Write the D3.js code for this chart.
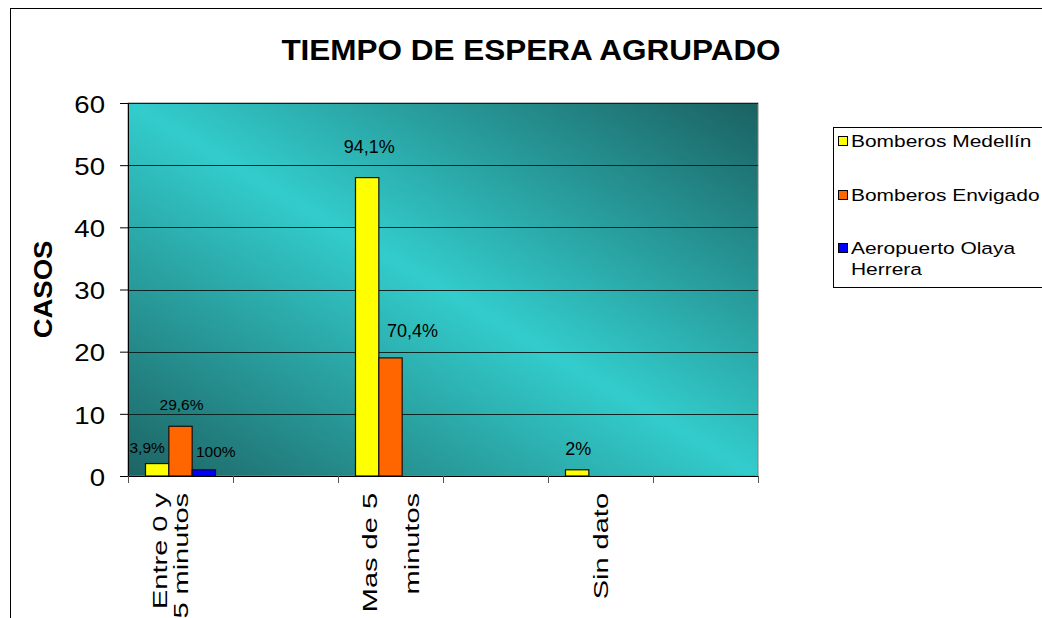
<!DOCTYPE html>
<html>
<head>
<meta charset="utf-8">
<script src="https://cdn.jsdelivr.net/npm/d3@7"></script>
<style>
  html, body { margin: 0; padding: 0; background: #fff; }
  svg { display: block; font-family: "Liberation Sans", Arial, sans-serif; }
</style>
</head>
<body>
<svg id="chart" width="1042" height="618"></svg>
<script>
// ---- data ----
const title = "TIEMPO DE ESPERA AGRUPADO";
const yTitle = "CASOS";
const categories = ["Entre 0 y\n5 minutos\n", "", "Mas de 5\n\nminutos", "", "Sin dato", ""];
const seriesNames = ["Bomberos Medellín", "Bomberos Envigado", "Aeropuerto Olaya\nHerrera"];
const medellin   = [2, 0, 48, 0, 1, 0];
const envigado   = [8, 0, 19, 0, 0, 0];
const aeropuerto = [1, 0, 0, 0, 0, 0];
const medellinLabels   = ["3,9%", "", "94,1%", "", "2%", ""];
const envigadoLabels   = ["29,6%", "", "70,4%", "", "", ""];
const aeropuertoLabels = ["100%", "", "", "", "", ""];
const yTicks = [0, 10, 20, 30, 40, 50, 60];

// ---- style / layout (not data) ----
const colors = ["#FFFF00", "#FF6600", "#0000FF"];
// manual data-label placement relative to bar top-centre: [dx, dy(centre), fontSize]
const labelOffsets = [
  [[-10, -16, 15.5], null, [2, -31, 18], null, [1, -21, 18], null],
  [[1, -22, 15.5], null, [22, -27, 18], null, null, null],
  [[12, -18, 15.5], null, null, null, null, null]
];

const svg = d3.select("#chart");
const W = 1042, H = 618;
const plot = { left: 128, right: 758, top: 103, bottom: 476 };

svg.append("rect").attr("width", W).attr("height", H).attr("fill", "#fff");
// outer chart border
svg.append("rect").attr("x", 10.5).attr("y", 8.5).attr("width", 1100).attr("height", 700)
  .attr("fill", "none").attr("stroke", "#000").attr("stroke-width", 1);

// gradient
const defs = svg.append("defs");
const grad = defs.append("linearGradient").attr("id", "bg")
  .attr("x1", 0).attr("y1", 1).attr("x2", 1).attr("y2", 0);
grad.append("stop").attr("offset", "0%").attr("stop-color", "#1d6464");
grad.append("stop").attr("offset", "50%").attr("stop-color", "#33cccc");
grad.append("stop").attr("offset", "100%").attr("stop-color", "#1b6161");

svg.append("rect").attr("x", plot.left).attr("y", plot.top)
  .attr("width", plot.right - plot.left).attr("height", plot.bottom - plot.top)
  .attr("fill", "url(#bg)").attr("stroke", "#808080").attr("stroke-width", 1);

// scales
const y = d3.scaleLinear().domain([0, 60]).range([plot.bottom, plot.top]);
const idx = d3.range(categories.length);
const x0 = d3.scaleBand().domain(idx).range([plot.left, plot.right])
  .paddingInner(1 / 3).paddingOuter(1 / 6);
const x1 = d3.scaleBand().domain(d3.range(seriesNames.length)).range([0, x0.bandwidth()]);
const xEdge = d3.scaleLinear().domain([0, categories.length]).range([plot.left, plot.right]);

// gridlines
svg.append("g").selectAll("line").data(yTicks.filter(d => d > 0)).join("line")
  .attr("x1", plot.left).attr("x2", plot.right)
  .attr("y1", d => Math.round(y(d)) + 0.5).attr("y2", d => Math.round(y(d)) + 0.5)
  .attr("stroke", "#0b2424").attr("stroke-width", 1);

// bars
const series = [medellin, envigado, aeropuerto];
const labels = [medellinLabels, envigadoLabels, aeropuertoLabels];
const barData = [];
series.forEach((vals, s) => vals.forEach((v, c) => { if (v > 0) barData.push({ s, c, v }); }));
svg.append("g").selectAll("rect").data(barData).join("rect")
  .attr("x", d => x0(d.c) + x1(d.s))
  .attr("y", d => y(d.v))
  .attr("width", x1.bandwidth())
  .attr("height", d => y(0) - y(d.v))
  .attr("fill", d => colors[d.s])
  .attr("stroke", "#111").attr("stroke-width", 1.2);

// data labels
const lblData = [];
labels.forEach((arr, s) => arr.forEach((t, c) => { if (t) lblData.push({ s, c, t, v: series[s][c] }); }));
svg.append("g").selectAll("text").data(lblData).join("text")
  .attr("x", d => x0(d.c) + x1(d.s) + x1.bandwidth() / 2 + labelOffsets[d.s][d.c][0])
  .attr("y", d => y(d.v) + labelOffsets[d.s][d.c][1])
  .attr("dy", "0.36em")
  .attr("text-anchor", "middle")
  .attr("font-size", d => labelOffsets[d.s][d.c][2] + "px")
  .attr("fill", "#000")
  .text(d => d.t);

// y axis
const yAxis = svg.append("g").attr("transform", `translate(${plot.left},0)`)
  .call(d3.axisLeft(y).tickValues(yTicks).tickSize(8).tickFormat(d3.format("d")));
yAxis.select(".domain").attr("stroke", "#000");
yAxis.selectAll(".tick line").attr("stroke", "#000");
yAxis.selectAll(".tick text")
  .attr("x", null).attr("dy", "0.36em")
  .attr("transform", "translate(-23,1) scale(1.2,1)")
  .attr("font-size", "23px").attr("font-family", "Liberation Sans, Arial, sans-serif")
  .attr("fill", "#000").attr("text-anchor", "end");

// x axis (category boundaries)
const xAxis = svg.append("g").attr("transform", `translate(0,${plot.bottom})`)
  .call(d3.axisBottom(xEdge).tickValues(d3.range(categories.length + 1)).tickSize(7).tickFormat(""));
xAxis.select(".domain").attr("stroke", "#000");
xAxis.selectAll(".tick line").attr("stroke", "#555");

// category labels (rotated, multi-line)
const catG = svg.append("g");
const lineH = 21, capH = 15;
idx.forEach(c => {
  const lines = categories[c].split("\n");
  if (!categories[c]) return;
  const center = x0(c) + x0.bandwidth() / 2;
  lines.forEach((ln, i) => {
    if (!ln) return;
    const lc = center + (i - (lines.length - 1) / 2) * lineH;
    catG.append("text")
      .attr("transform", `translate(${lc + capH / 2},493) rotate(-90) scale(1.38,1)`)
      .attr("text-anchor", "end")
      .attr("font-size", "21px")
      .attr("fill", "#000")
      .text(ln);
  });
});

// title
svg.append("text")
  .attr("transform", "translate(531,60) scale(1.05,1)")
  .attr("text-anchor", "middle").attr("font-weight", "bold").attr("font-size", "30px")
  .attr("fill", "#000").text(title);

// y title
svg.append("text")
  .attr("transform", `translate(52,${(plot.top + plot.bottom) / 2}) rotate(-90) scale(1.1,1)`)
  .attr("text-anchor", "middle").attr("font-weight", "bold").attr("font-size", "25px")
  .attr("fill", "#000").text(yTitle);

// legend
const lg = svg.append("g");
lg.append("rect").attr("x", 833.5).attr("y", 127.5).attr("width", 300).attr("height", 160)
  .attr("fill", "#fff").attr("stroke", "#000").attr("stroke-width", 1);
const rowY = [141, 195, 248];
seriesNames.forEach((name, i) => {
  lg.append("rect").attr("x", 838.5).attr("y", rowY[i] - 4.5).attr("width", 9).attr("height", 9)
    .attr("fill", colors[i]).attr("stroke", "#000").attr("stroke-width", 1);
  name.split("\n").forEach((ln, j) => {
    lg.append("text")
      .attr("transform", `translate(851,${rowY[i] + 6 + j * 21}) scale(1.27,1)`)
      .attr("font-size", "16.5px").attr("fill", "#000").text(ln);
  });
});
</script>
</body>
</html>
